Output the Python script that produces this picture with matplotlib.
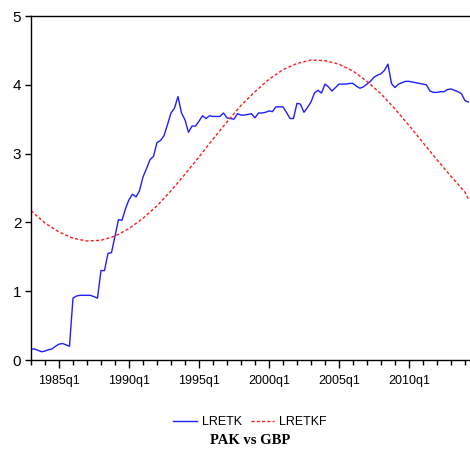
import matplotlib
matplotlib.use("Agg")
import matplotlib.pyplot as plt
from matplotlib.ticker import MultipleLocator
import numpy as np

# quarterly series 1983q1 .. 2014q2
start_year = 1983
lretk = [
    0.16, 0.16, 0.14, 0.12,   # 1983
    0.13, 0.15, 0.16, 0.20,   # 1984
    0.23, 0.24, 0.22, 0.20,   # 1985
    0.90, 0.93, 0.94, 0.94,   # 1986
    0.94, 0.94, 0.92, 0.90,   # 1987
    1.30, 1.30, 1.55, 1.56,   # 1988
    1.80, 2.04, 2.03, 2.20,   # 1989
    2.33, 2.41, 2.37, 2.46,   # 1990
    2.66, 2.78, 2.91, 2.96,   # 1991
    3.16, 3.19, 3.26, 3.42,   # 1992
    3.59, 3.66, 3.83, 3.59,   # 1993
    3.49, 3.31, 3.40, 3.40,   # 1994
    3.47, 3.55, 3.51, 3.55,   # 1995
    3.54, 3.54, 3.54, 3.59,   # 1996
    3.52, 3.51, 3.50, 3.58,   # 1997
    3.56, 3.56, 3.57, 3.58,   # 1998
    3.52, 3.59, 3.59, 3.60,   # 1999
    3.62, 3.61, 3.68, 3.68,   # 2000
    3.68, 3.60, 3.51, 3.51,   # 2001
    3.73, 3.72, 3.60, 3.67,   # 2002
    3.75, 3.88, 3.92, 3.88,   # 2003
    4.01, 3.97, 3.91, 3.96,   # 2004
    4.01, 4.01, 4.01, 4.02,   # 2005
    4.02, 3.98, 3.95, 3.97,   # 2006
    4.01, 4.05, 4.11, 4.14,   # 2007
    4.16, 4.21, 4.30, 4.02,   # 2008
    3.96, 4.01, 4.03, 4.05,   # 2009
    4.05, 4.04, 4.03, 4.02,   # 2010
    4.01, 4.00, 3.91, 3.89,   # 2011
    3.89, 3.90, 3.90, 3.93,   # 2012
    3.94, 3.92, 3.90, 3.87,   # 2013
    3.77, 3.75,               # 2014
]

# fitted curve read once a year (q1), last point 2014q2
lretkf_t = [1983, 1984, 1985, 1986, 1987, 1988, 1989, 1990, 1991, 1992,
            1993, 1994, 1995, 1996, 1997, 1998, 1999, 2000, 2001, 2002,
            2003, 2004, 2005, 2006, 2007, 2008, 2009, 2010, 2011, 2012,
            2013, 2014, 2014.25]
lretkf = [2.17, 1.99, 1.86, 1.77, 1.73, 1.74, 1.80, 1.91, 2.06, 2.24,
          2.46, 2.70, 2.95, 3.21, 3.46, 3.70, 3.90, 4.08, 4.22, 4.31,
          4.36, 4.35, 4.30, 4.20, 4.05, 3.87, 3.65, 3.41, 3.16, 2.91,
          2.67, 2.44, 2.34]

tick_years = [1985, 1990, 1995, 2000, 2005, 2010]
tick_labels = ["1985q1", "1990q1", "1995q1", "2000q1", "2005q1", "2010q1"]

t = start_year + np.arange(len(lretk)) / 4.0

fig = plt.figure(figsize=(4.7, 4.57), dpi=100)
ax = fig.add_axes([31/470, 97/457, 438/470, 344/457])

ax.plot(t, lretk, color="#1f1fff", lw=1.0, label="LRETK")
ax.plot(lretkf_t, lretkf, color="#ff1a1a", lw=1.0, ls=(0, (2.2, 1.6)), label="LRETKF")

ax.set_xlim(1983, 2014.29)
ax.set_ylim(0, 5)
ax.set_xticks(tick_years)
ax.set_xticklabels(tick_labels, fontsize=9, family="Liberation Sans")
ax.xaxis.set_minor_locator(MultipleLocator(1))
ax.set_yticks(range(6))
ax.set_yticklabels([str(v) for v in range(6)], fontsize=11, family="Liberation Sans")
ax.tick_params(axis="x", which="major", length=6, width=1, direction="out", pad=5)
ax.tick_params(axis="x", which="minor", length=3.5, width=1, direction="out")
ax.tick_params(axis="y", length=4, width=1, direction="out", pad=3)
ax.spines["right"].set_visible(False)
for s in ["left", "bottom", "top"]:
    ax.spines[s].set_linewidth(1.0)

fig.legend(loc="center", bbox_to_anchor=(250/470, 1 - 422/457), ncol=2,
           frameon=False, prop={"family": "Liberation Sans", "size": 9},
           handlelength=1.9, handletextpad=0.4, columnspacing=0.7)
fig.text(250/470, 1 - 440/457, "PAK vs GBP", ha="center", va="center",
         fontsize=10.5, fontweight="bold", family="Liberation Serif")

fig.savefig("out.png", dpi=100)
